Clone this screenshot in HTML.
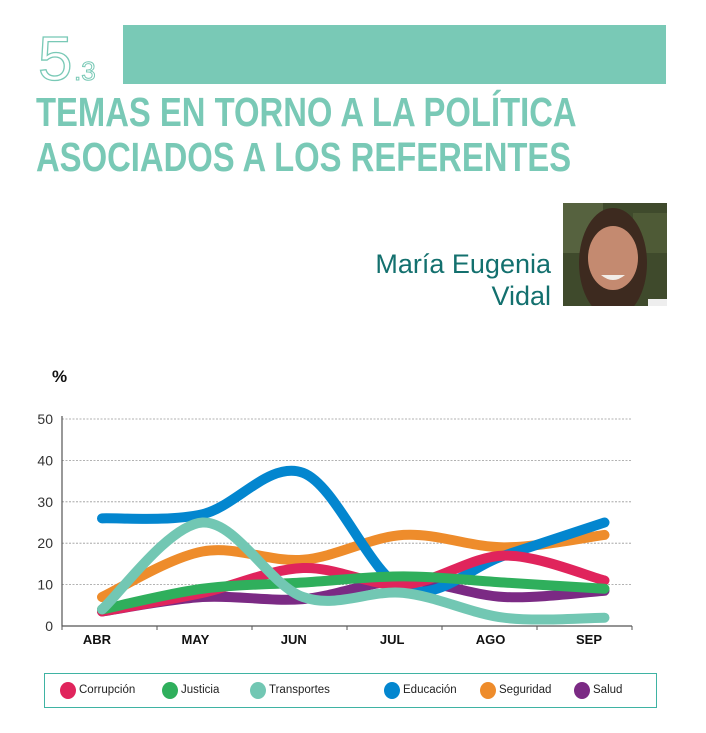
<!DOCTYPE html>
<html><head><meta charset="utf-8">
<style>
body{margin:0;background:#fff;width:706px;height:733px;overflow:hidden;position:relative;font-family:"Liberation Sans",sans-serif;}
.abs{position:absolute;}
</style></head><body>
<svg class="abs" style="left:36px;top:20px" width="85" height="66">
<text x="2" y="60" font-size="62" font-family="Liberation Sans" fill="none" stroke="#79c9b6" stroke-width="1.3">5</text>
<text x="38" y="60" font-size="26" font-family="Liberation Sans" fill="none" stroke="#79c9b6" stroke-width="1">.3</text>
</svg>
<div class="abs" style="left:123px;top:25px;width:543px;height:59px;background:#79c9b6;"></div>
<div class="abs" style="left:36px;top:90px;font-size:41px;font-weight:bold;color:#79c9b6;line-height:45px;transform:scaleX(0.8);transform-origin:left top;white-space:nowrap;">TEMAS EN TORNO A LA POLÍTICA<br>ASOCIADOS A LOS REFERENTES</div>
<div class="abs" style="right:155px;top:248px;font-size:27px;color:#13706e;text-align:right;line-height:32px;">María Eugenia<br>Vidal</div>
<svg class="abs" style="left:563px;top:203px" width="104" height="103">
<rect width="104" height="103" fill="#3f4a2c"/>
<rect x="0" y="0" width="40" height="50" fill="#56623f"/>
<rect x="70" y="10" width="34" height="40" fill="#4e5a36"/>
<ellipse cx="50" cy="60" rx="34" ry="55" fill="#3d2a1f"/>
<ellipse cx="50" cy="55" rx="25" ry="32" fill="#c48a70"/>
<path d="M38 72 Q50 82 62 72 Z" fill="#f2ede8"/>
<rect x="85" y="96" width="19" height="7" fill="#eeeeee"/>
</svg>
<svg class="abs" style="left:0;top:360px" width="706" height="300" id="chart"></svg>
<div class="abs" style="left:44px;top:673px;width:611px;height:33px;border:1.5px solid #3fb3a3;"></div>
<script>
const months=["ABR","MAY","JUN","JUL","AGO","SEP"];
const yTicks=[0,10,20,30,40,50];
const corrupcion=[3.5,8,14,10,17,11];
const justicia=[4,9,10.5,12,10.5,9];
const transportes=[4,25,7,8,2,2];
const educacion=[26,27,37,9,17,25];
const seguridad=[7,18,16,22,19,22];
const salud=[3.5,7,6.5,11,7,8.5];
const series=[
 {name:"salud",label:"Salud",color:"#7b2a84",data:salud},
 {name:"seguridad",label:"Seguridad",color:"#ee8c2b",data:seguridad},
 {name:"educacion",label:"Educación",color:"#0386cf",data:educacion},
 {name:"corrupcion",label:"Corrupción",color:"#e0245c",data:corrupcion},
 {name:"justicia",label:"Justicia",color:"#2faf5c",data:justicia},
 {name:"transportes",label:"Transportes",color:"#72c7b3",data:transportes}];
const legendOrder=["corrupcion","justicia","transportes","educacion","seguridad","salud"];
const OY=360;
function X(i){return 102+i*100.5;}
function LX(i){return 97+i*98.4;}
function Y(v){return 626-OY-v*4.14;}
const svg=document.getElementById('chart');
const NS="http://www.w3.org/2000/svg";
function mk(t,a){const e=document.createElementNS(NS,t);for(const k in a)e.setAttribute(k,a[k]);svg.appendChild(e);return e;}
yTicks.forEach(v=>{
 if(v>0){const g=mk('line',{x1:62,x2:632,y1:Y(v),y2:Y(v),stroke:'#999','stroke-dasharray':'2,1.5','stroke-width':0.8});
 
 }
 const t=mk('text',{x:53,y:Y(v)+5,'text-anchor':'end','font-size':14,fill:'#333','font-family':'Liberation Sans'});
 t.textContent=v;
 
 
});
const ax=mk('path',{d:`M62 ${Y(0)-210} V${Y(0)} H632`,stroke:'#555',fill:'none','stroke-width':1.2});


for(let i=0;i<=6;i++){const tk=mk('line',{x1:62+i*95,x2:62+i*95,y1:Y(0),y2:Y(0)+4,stroke:'#555'});
 
 }
months.forEach((m,i)=>{const t=mk('text',{x:LX(i),y:Y(0)+18,'text-anchor':'middle','font-size':13,'font-weight':'bold',fill:'#111'});
 t.textContent=m;
 
 });
const pc=mk('text',{x:52,y:22,'font-size':17,'font-weight':'bold',fill:'#111'});
pc.textContent='%';


function smooth(d){
 const p=d.map((v,i)=>[X(i),Y(v)]);
 let s=`M${p[0][0]},${p[0][1]}`;
 for(let i=0;i<p.length-1;i++){
  const p0=p[Math.max(i-1,0)],p1=p[i],p2=p[i+1],p3=p[Math.min(i+2,p.length-1)];
  const c1=[p1[0]+(p2[0]-p0[0])/6,p1[1]+(p2[1]-p0[1])/6];
  const c2=[p2[0]-(p3[0]-p1[0])/6,p2[1]-(p3[1]-p1[1])/6];
  s+=` C${c1[0]},${c1[1]} ${c2[0]},${c2[1]} ${p2[0]},${p2[1]}`;
 }
 return s;
}
series.forEach(s=>{
 const l=mk('path',{d:smooth(s.data),stroke:s.color,fill:'none','stroke-width':10,'stroke-linecap':'round','stroke-linejoin':'round'});
 
 
});
const dotX=[68,170,258,392,488,582];
legendOrder.forEach((n,i)=>{
 const s=series.find(q=>q.name===n);
 const d=document.createElement('div');
 d.className='abs';
 
 
 d.style.cssText=`left:${dotX[i]-8}px;top:681px;height:18px;display:flex;align-items:center;font-size:11.5px;color:#222;white-space:nowrap;`;
 d.innerHTML=`<span style="display:inline-block;width:16px;height:17px;border-radius:50%;background:${s.color};margin-right:3px"></span>${s.label}`;
 document.body.appendChild(d);
});
</script>
</body></html>
